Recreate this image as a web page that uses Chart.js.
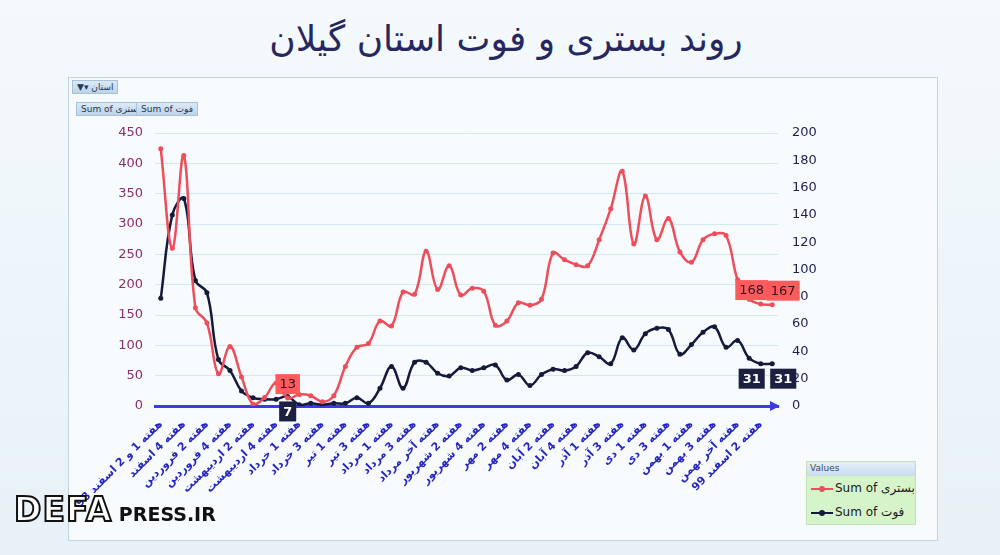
<!DOCTYPE html>
<html lang="fa">
<head>
<meta charset="utf-8">
<title>روند بستری و فوت استان گیلان</title>
<script src="https://cdn.jsdelivr.net/npm/chart.js@4.4.1/dist/chart.umd.min.js"></script>
<style>
  html, body { margin: 0; padding: 0; }
  body {
    width: 1000px; height: 555px; overflow: hidden; position: relative;
    background: linear-gradient(#f4f9fc, #e8f1f7);
    font-family: "DejaVu Sans", sans-serif;
  }
  #title {
    position: absolute; top: 18px; left: 6px; width: 1000px;
    text-align: center; direction: rtl;
    font-size: 36px; color: #27275f;
  }
  #frame {
    position: absolute; left: 68px; top: 77px; width: 868px; height: 462px;
    border: 1px solid #c3d3e2; background: #f8fbfd;
  }
  #c { position: absolute; left: 0; top: 0; }
  .btn {
    position: absolute; font-size: 9px; color: #2a3550;
    background: linear-gradient(#dceaf7, #bcd3ea); border: 1px solid #a9c2dc;
    padding: 1px 4px; white-space: nowrap;
  }
  #legend {
    position: absolute; left: 806px; top: 461px; width: 108px; height: 62px;
    background: #d6f4c9; border: 1px solid #c4e0b6; font-size: 12px; color: #1a1a1a;
  }
  #legend .head {
    background: linear-gradient(#e4eef8, #c9dcee); font-size: 9px; color: #3a4a66;
    padding: 1px 3px; height: 12px;
  }
  #legend .item { height: 24px; line-height: 24px; padding-left: 4px; white-space: nowrap; direction: ltr; }
  #legend .sw { display: inline-block; width: 22px; height: 2px; vertical-align: middle; position: relative; margin-right: 2px; }
  #legend .sw i { position: absolute; left: 8px; top: -2px; width: 6px; height: 6px; border-radius: 3px; }
  #mark { position: absolute; left: 14px; top: 490px; white-space: nowrap; }
  #mark .a { font-size: 33px; font-weight: bold; color: #fff; -webkit-text-stroke: 2px #111; letter-spacing: 1px; }
  #mark .b { font-size: 19px; font-weight: bold; color: #111; }
</style>
</head>
<body>
<div id="title">روند بستری و فوت استان گیلان</div>
<div id="frame"></div>
<canvas id="c" width="1000" height="555" dir="rtl"></canvas>
<div class="btn" style="left:72px; top:80px;">&#9660;&#9662; استان</div>
<div class="btn" style="left:76px; top:102px;" dir="ltr">Sum of بستری</div>
<div class="btn" style="left:136px; top:102px;" dir="ltr">Sum of فوت</div>
<div id="legend">
  <div class="head">Values</div>
  <div class="item"><span class="sw" style="background:#ee4d5a"><i style="background:#ee4d5a"></i></span>Sum of بستری</div>
  <div class="item"><span class="sw" style="background:#151a3a"><i style="background:#151a3a"></i></span>Sum of فوت</div>
</div>
<div id="mark"><span class="a">DEFA</span><span class="b"> PRESS.IR</span></div>

<script>
// Visible tick labels, one every second week
const tickLabels = [
    'هفته 1 و 2 اسفند 98', 'هفته 4 اسفند', 'هفته 2 فروردین', 'هفته 4 فروردین',
    'هفته 2 اردیبهشت', 'هفته 4 اردیبهشت', 'هفته 1 خرداد', 'هفته 3 خرداد',
    'هفته 1 تیر', 'هفته 3 تیر', 'هفته 1 مرداد', 'هفته 3 مرداد',
    'هفته آخر مرداد', 'هفته 2 شهریور', 'هفته 4 شهریور', 'هفته 2 مهر',
    'هفته 4 مهر', 'هفته 2 آبان', 'هفته 4 آبان', 'هفته 1 آذر',
    'هفته 3 آذر', 'هفته 1 دی', 'هفته 3 دی', 'هفته 1 بهمن',
    'هفته 3 بهمن', 'هفته آخر بهمن', 'هفته 2 اسفند 99'
];

// Sum of بستری (left axis)
const hospitalized = [
    424, 260, 413, 162, 137, 53, 98, 48, 3, 14,
    38, 13, 19, 17, 7, 17, 65, 97, 103, 140,
    132, 188, 184, 255, 192, 231, 183, 194, 189, 133,
    140, 170, 166, 176, 252, 241, 233, 231, 274, 325,
    387, 267, 346, 274, 309, 254, 237, 274, 284, 281,
    208, 176, 168, 167
];

// Sum of فوت (right axis)
const deaths = [
    79, 140, 152, 92, 83, 34, 26, 11, 6, 5,
    5, 7, 1, 2, 1, 2, 2, 6, 2, 13,
    29, 13, 32, 32, 24, 22, 28, 26, 28, 30,
    19, 23, 15, 23, 27, 26, 29, 39, 36, 31,
    50, 41, 53, 57, 56, 38, 45, 54, 58, 43,
    48, 35, 31, 31
];

// points that carry a data label
const labeledPoints = [11, 52, 53];

// every week is a category, only every second one is named
const categories = tickLabels.flatMap(t => [t, '']);

// Draw the boxed value labels
const valueLabels = {
    id: 'valueLabels',
    afterDatasetsDraw(chart) {
        const ctx = chart.ctx;
        const nudge = { 52: -9, 53: 11 };
        chart.data.datasets.forEach((ds, di) => {
            const meta = chart.getDatasetMeta(di);
            labeledPoints.forEach(i => {
                const pt = meta.data[i];
                const text = String(ds.data[i]);
                ctx.save();
                ctx.direction = 'ltr';
                ctx.font = (di === 0 ? '' : 'bold ') + '13px "DejaVu Sans"';
                const w = ctx.measureText(text).width + 8;
                const h = 20;
                const cx = pt.x + (nudge[i] || 0);
                const top = di === 0 ? pt.y - 4 - h : pt.y + 5;
                ctx.fillStyle = di === 0 ? '#ff5a5c' : '#1b2040';
                ctx.fillRect(cx - w / 2, top, w, h);
                ctx.fillStyle = di === 0 ? '#2a1420' : '#ffffff';
                ctx.textAlign = 'center';
                ctx.textBaseline = 'middle';
                ctx.fillText(text, cx, top + h / 2 + 1);
                ctx.restore();
            });
        });
    }
};

// Arrow head on the category axis
const axisArrow = {
    id: 'axisArrow',
    afterDraw(chart) {
        const { ctx, chartArea } = chart;
        const x = chartArea.right, y = chartArea.bottom;
        ctx.save();
        ctx.fillStyle = '#3a3ae8';
        ctx.beginPath();
        ctx.moveTo(x + 2, y);
        ctx.lineTo(x - 8, y - 5);
        ctx.lineTo(x - 8, y + 5);
        ctx.closePath();
        ctx.fill();
        ctx.restore();
    }
};

const ctx = document.getElementById('c').getContext('2d');
new Chart(ctx, {
    type: 'line',
    data: {
        labels: categories,
        datasets: [
            {
                label: 'Sum of بستری',
                data: hospitalized,
                yAxisID: 'yLeft',
                borderColor: '#ee4d5a',
                backgroundColor: '#ee4d5a',
                borderWidth: 2.5,
                pointRadius: 2.5,
                pointBorderWidth: 0,
                tension: 0.4
            },
            {
                label: 'Sum of فوت',
                data: deaths,
                yAxisID: 'yRight',
                borderColor: '#151a3a',
                backgroundColor: '#151a3a',
                borderWidth: 2.5,
                pointRadius: 2.5,
                pointBorderWidth: 0,
                tension: 0.4
            }
        ]
    },
    options: {
        responsive: false,
        animation: false,
        layout: { padding: { left: 100, right: 177, top: 133, bottom: 39 } },
        plugins: {
            legend: { display: false },
            tooltip: { enabled: false }
        },
        scales: {
            x: {
                offset: true,
                grid: { display: false },
                border: { color: '#3a3ae8', width: 3 },
                ticks: {
                    autoSkip: false,
                    minRotation: 45,
                    maxRotation: 45,
                    padding: 4,
                    color: '#2626c2',
                    font: { family: 'DejaVu Sans', size: 11, weight: 'bold' }
                },
                afterFit: s => { s.height = 110; }
            },
            yLeft: {
                position: 'left',
                min: 0,
                max: 450,
                ticks: {
                    stepSize: 50,
                    padding: 12,
                    color: '#8a2d6c',
                    font: { family: 'DejaVu Sans', size: 13 }
                },
                grid: { color: '#d3e9f2', drawTicks: false },
                border: { display: false },
                afterFit: s => { s.width = 55; }
            },
            yRight: {
                position: 'right',
                min: 0,
                max: 200,
                ticks: {
                    stepSize: 20,
                    padding: 14,
                    color: '#1c1f50',
                    font: { family: 'DejaVu Sans', size: 13 }
                },
                grid: { display: false, drawTicks: false },
                border: { display: false },
                afterFit: s => { s.width = 45; }
            }
        }
    },
    plugins: [valueLabels, axisArrow]
});
</script>
</body>
</html>
